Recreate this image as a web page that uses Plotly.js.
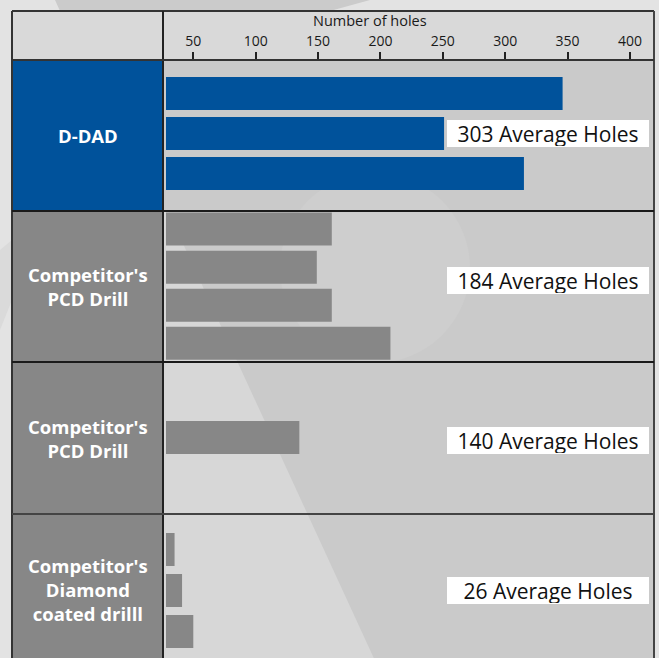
<!DOCTYPE html>
<html><head><meta charset="utf-8">
<script src="https://cdn.plot.ly/plotly-3.0.1.min.js"></script>
<style>html,body{margin:0;padding:0;background:#e3e3e3;} #chart{width:659px;height:658px;}</style>
</head><body><div id="chart"></div>
<script>
// ---- data ----
const groupLabels = ["D-DAD", "Competitor's<br>PCD Drill", "Competitor's<br>PCD Drill", "Competitor's<br>Diamond<br>coated drilll"];
const ddadHoles = [346, 251, 315];
const pcdHoles = [161, 149, 161, 208];
const pcd2Holes = [135];
const diamondHoles = [35, 41, 50];
const averageLabels = ["303 Average Holes", "184 Average Holes", "140 Average Holes", "26 Average Holes"];
const runNames = ["Run 1", "Run 2", "Run 3", "Run 4"];
const xTickVals = [50, 100, 150, 200, 250, 300, 350, 400];
const xTitle = "Number of holes";

// ---- styling / geometry ----
const series = [ddadHoles, pcdHoles, pcd2Holes, diamondHoles];
const barColors = ["#00529b", "#878787", "#878787", "#878787"];
const boxColors = ["#00529b", "#878787", "#878787", "#878787"];
const FONT = "Open Sans, Noto Sans, sans-serif";
const W = 659, H = 658, L = 166, R = 5, T = 60, B = 0;
const plotW = W - L - R, plotH = H - T - B;
const px2x = px => (px - L) / plotW;
const py2y = py => (H - B - py) / plotH;
const rowTop = [60, 211, 362, 514];
const rowBot = [211, 362, 514, 665];
const barCenter = [133.5, 286.2, 437.5, 590.5];
const barPitch = [40, 38.1, 40, 41];
const barH = 33;
const boxCenter = [133.4, 280.3, 440.7, 590.2];
const xPxPerUnit = 1.2477, xZeroPx = 130.9;
const xRange = [(L - xZeroPx) / xPxPerUnit, (W - R - xZeroPx) / xPxPerUnit];

const traces = [];
const layout = {
  width: W, height: H,
  margin: {l: L, r: R, t: T, b: B, pad: 0},
  paper_bgcolor: "#e3e3e3",
  plot_bgcolor: "rgba(0,0,0,0)",
  showlegend: false,
  font: {family: FONT, color: "#1a1a1a"},
  xaxis: {
    domain: [0, 1], range: xRange, side: "top", anchor: "y",
    tickmode: "array", tickvals: xTickVals,
    ticks: "outside", ticklen: 7, tickwidth: 2, tickcolor: "#222",
    showgrid: false, zeroline: false, showline: false,
    tickfont: {family: FONT, size: 14, color: "#1a1a1a"},
    fixedrange: true
  },
  shapes: [], annotations: []
};

series.forEach((vals, i) => {
  const n = vals.length;
  const c = (n - 1) / 2;
  const p = barPitch[i];
  const bot = Math.min(rowBot[i], H);
  const yTop = c - (barCenter[i] - rowTop[i]) / p;
  const yBot = c + (bot - barCenter[i]) / p;
  const axName = i === 0 ? "yaxis" : "yaxis" + (i + 1);
  layout[axName] = {
    domain: [py2y(bot), py2y(rowTop[i])], anchor: "x", type: "category",
    range: [yBot, yTop], showticklabels: false, ticks: "", showgrid: false,
    zeroline: false, showline: false, fixedrange: true
  };
  traces.push({
    type: "bar", orientation: "h", x: vals, y: runNames.slice(0, n),
    xaxis: "x", yaxis: i === 0 ? "y" : "y" + (i + 1),
    width: barH / p, marker: {color: barColors[i], line: {width: 0}},
    hoverinfo: "skip"
  });
});

const S = layout.shapes;
function rect(x0, y0, x1, y1, fill, layer) {
  S.push({type: "rect", xref: "paper", yref: "paper", x0: px2x(x0), x1: px2x(x1), y0: py2y(y1), y1: py2y(y0),
    fillcolor: fill, line: {width: 0}, layer: layer || "below"});
}
function poly(pts, fill) {
  const d = pts.map((p, k) => (k ? "L" : "M") + px2x(p[0]) + "," + py2y(p[1])).join(" ") + " Z";
  S.push({type: "path", xref: "paper", yref: "paper", path: d, fillcolor: fill, line: {width: 0}, layer: "below"});
}
function line(x0, y0, x1, y1, w, col) {
  S.push({type: "line", xref: "paper", yref: "paper", x0: px2x(x0), x1: px2x(x1), y0: py2y(y0), y1: py2y(y1),
    line: {width: w, color: col || "#222"}, layer: "above"});
}
// background decoration
poly([[55, 0], [370, 0], [330, 11], [60, 11]], "#cbcbcb");
poly([[0, 250], [12, 240], [12, 300], [0, 330]], "#dadada");
rect(12, 11, 654, 60, "#d9d9d9");
rect(163, 60, 654, 665, "#cacaca");
S.push({type: "circle", xref: "paper", yref: "paper", x0: px2x(280), x1: px2x(470), y0: py2y(363), y1: py2y(173),
  fillcolor: "#cecece", line: {width: 0}, layer: "below"});
poly([[168, 211], [377, 665], [163, 665], [163, 211]], "#d7d7d7");
// left label boxes
rowTop.forEach((t, i) => rect(12, t, 163, rowBot[i], boxColors[i]));
// grid lines
line(12, 11, 654, 11, 2, "#333");
line(12, 11, 12, 665, 2, "#333");
line(654, 11, 654, 665, 2, "#444");
line(163, 11, 163, 665, 2, "#222");
line(12, 60, 654, 60, 2, "#333");
line(12, 211, 654, 211, 1.8, "#1a1a1a");
line(12, 362, 654, 362, 1.8, "#1a1a1a");
line(12, 514, 654, 514, 1.8, "#444");

// axis title (placed as in the reference, left of plot centre)
layout.annotations.push({
  xref: "paper", yref: "paper", x: px2x(370), y: py2y(21), text: xTitle, showarrow: false,
  xanchor: "center", yanchor: "middle", font: {family: FONT, size: 14.5, color: "#1a1a1a"}
});

rowTop.forEach((t, i) => {
  layout.annotations.push({
    xref: "paper", yref: "paper", x: px2x(87.5), y: py2y((t + rowBot[i]) / 2),
    text: "<b>" + groupLabels[i] + "</b>", showarrow: false, xanchor: "center", yanchor: "middle",
    font: {family: FONT, size: 18.5, color: "#ffffff"}, align: "center"
  });
  layout.annotations.push({
    xref: "paper", yref: "paper", x: px2x(548), y: py2y(boxCenter[i]),
    text: averageLabels[i], showarrow: false, xanchor: "center", yanchor: "middle",
    font: {family: FONT, size: 21, color: "#111"}, bgcolor: "#ffffff",
    width: 200, height: 25, borderpad: 1, borderwidth: 0, align: "center"
  });
});

Plotly.newPlot("chart", traces, layout, {displayModeBar: false, staticPlot: true});
</script>
</body></html>
